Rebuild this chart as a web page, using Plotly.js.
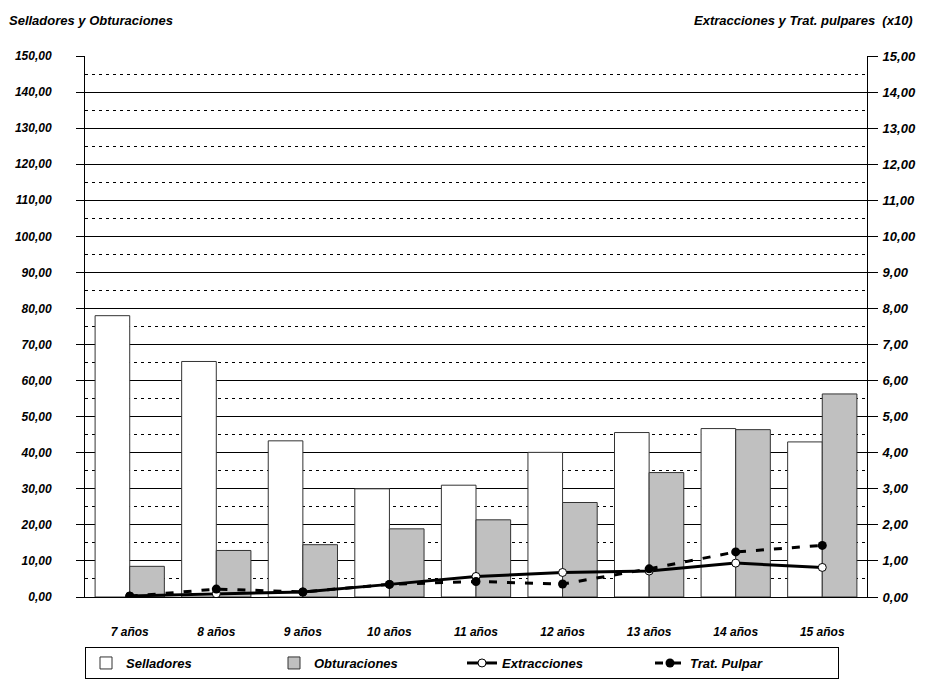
<!DOCTYPE html>
<html>
<head>
<meta charset="utf-8">
<script src="https://cdn.plot.ly/plotly-3.0.1.min.js"></script>
<style>html,body{margin:0;padding:0;background:#fff;}#chart{width:926px;height:682px;}</style>
</head>
<body>
<div id="chart"></div>
<script>
const categories = ['7 años','8 años','9 años','10 años','11 años','12 años','13 años','14 años','15 años'];
const selladores = [78.0, 65.3, 43.3, 30.0, 31.0, 40.1, 45.6, 46.7, 43.0];
const obturaciones = [8.5, 12.9, 14.5, 18.9, 21.4, 26.2, 34.5, 46.4, 56.3];
const extracciones = [0.03, 0.09, 0.14, 0.35, 0.57, 0.68, 0.72, 0.94, 0.82];
const tratPulpar = [0.02, 0.22, 0.14, 0.35, 0.43, 0.36, 0.78, 1.25, 1.43];
const leftTitle = 'Selladores y Obturaciones';
const rightTitle = 'Extracciones y Trat. pulpares\u00a0\u00a0(x10)';

const FONT = 'Liberation Sans, Arial, sans-serif';
const bi = (size) => ({family: FONT, size: size, color: '#000', weight: 'bold', style: 'italic'});

const traces = [
  {type:'bar', name:'Selladores', x:categories, y:selladores,
   marker:{color:'#ffffff', line:{color:'#333333', width:1}}},
  {type:'bar', name:'Obturaciones', x:categories, y:obturaciones,
   marker:{color:'#c0c0c0', line:{color:'#333333', width:1}}},
  {type:'scatter', mode:'lines+markers', name:'Extracciones', x:categories, y:extracciones, yaxis:'y2',
   line:{color:'#000', width:3},
   marker:{symbol:'circle', size:8, color:'#ffffff', line:{color:'#000', width:1}}},
  {type:'scatter', mode:'lines+markers', name:'Trat. Pulpar', x:categories, y:tratPulpar, yaxis:'y2',
   line:{color:'#000', width:3, dash:'8px,10px'},
   marker:{symbol:'circle', size:9, color:'#000'}}
];

const layout = {
  width:926, height:682,
  margin:{l:85, r:59, t:56, b:85},
  paper_bgcolor:'#fff', plot_bgcolor:'#fff',
  separators:',.',
  barmode:'group', bargap:0.2, bargroupgap:0,
  showlegend:true,
  legend:{orientation:'h', xref:'paper', x:0.0, xanchor:'left', yref:'container', y:0.0513, yanchor:'top',
          bordercolor:'#000', borderwidth:1, font:bi(13), entrywidth:143, traceorder:'normal'},
  xaxis:{type:'category', showgrid:false, showline:true, linecolor:'#000', linewidth:1,
         ticks:'', tickfont:bi(12), ticklabelstandoff:24, zeroline:false},
  yaxis:{range:[0,150], dtick:10, tickformat:'.2f', showgrid:true, gridcolor:'#000', gridwidth:1,
         showline:true, linecolor:'#000', linewidth:1, ticks:'outside', ticklen:8, tickcolor:'#000',
         tickfont:bi(12), ticklabelstandoff:22, zeroline:false,
         minor:{dtick:5, showgrid:true, gridcolor:'#000', gridwidth:1, griddash:'3px,4px'}},
  yaxis2:{range:[0,15], dtick:1, tickformat:'.2f', overlaying:'y', side:'right', showgrid:false,
          showline:true, linecolor:'#000', linewidth:1, ticks:'outside', ticklen:10, tickcolor:'#000',
          tickfont:bi(13), ticklabelstandoff:2, zeroline:false},
  annotations:[
    {text:leftTitle, xref:'paper', yref:'paper', x:-0.1, y:1.0665, xanchor:'left', yanchor:'middle',
     showarrow:false, font:bi(13)},
    {text:rightTitle, xref:'paper', yref:'paper', x:1.0614, y:1.0665, xanchor:'right', yanchor:'middle',
     showarrow:false, font:bi(13)}
  ]
};

Plotly.newPlot('chart', traces, layout, {displayModeBar:false, staticPlot:true});
</script>
</body>
</html>
